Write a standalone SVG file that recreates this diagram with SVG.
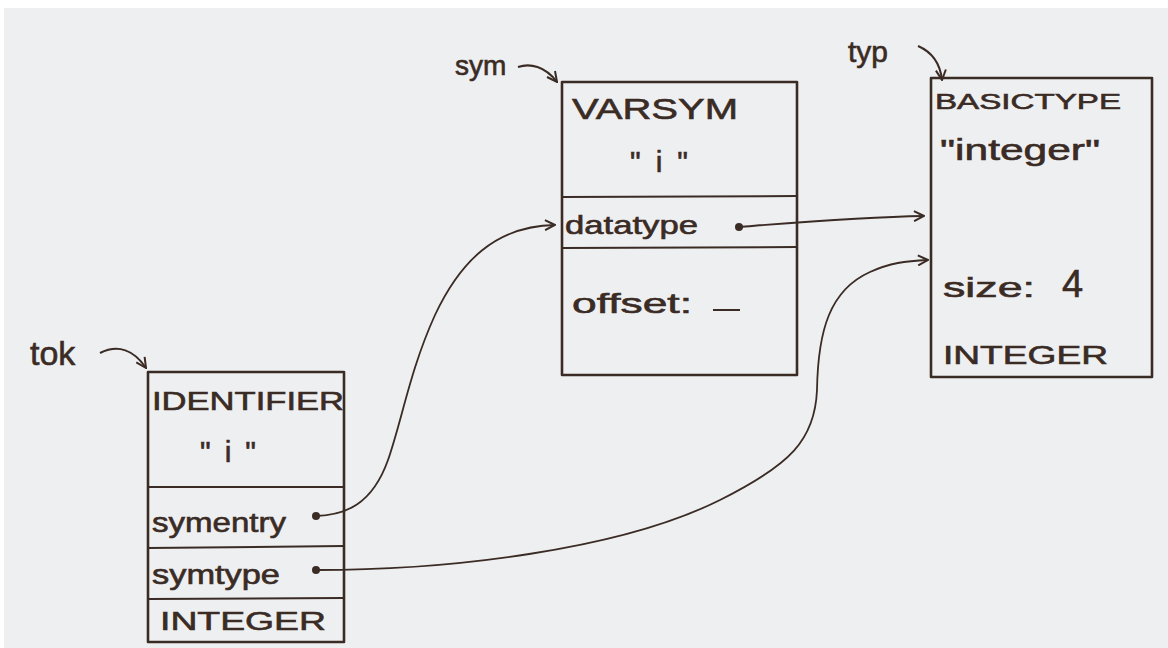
<svg xmlns="http://www.w3.org/2000/svg" width="1168" height="648" viewBox="0 0 1168 648">
<style>
.box{fill:none;stroke:#3a2b24;stroke-width:2.6;stroke-linejoin:round}
.div{fill:none;stroke:#3a2b24;stroke-width:2}
.con{fill:none;stroke:#3a2b24;stroke-width:1.8}
.ptr{fill:none;stroke:#3a2b24;stroke-width:2}
.t{font-family:"Liberation Sans","DejaVu Sans",sans-serif;fill:#3a2b24;stroke:#3a2b24;stroke-width:0.6}
.dot{fill:#3a2b24}
</style>
<defs>
<marker id="ah" viewBox="0 0 12 12" refX="11" refY="6" markerWidth="12" markerHeight="12" markerUnits="userSpaceOnUse" orient="auto">
<path d="M1,1 L11,6 L1,11" fill="none" stroke="#3a2b24" stroke-width="2"/>
</marker>
</defs>
<rect x="0" y="0" width="1168" height="648" fill="#ffffff"/>
<rect x="4" y="8" width="1164" height="640" fill="#eeeff1"/>

<g id="tok">
<text class="t" x="30" y="365" font-size="34">tok</text>
<path class="ptr" d="M100,353 C118,344 134,350 146,368" marker-end="url(#ah)"/>
</g>
<g id="tokbox">
<rect class="box" x="148" y="372" width="196" height="270"/>
<line class="div" x1="148" y1="487" x2="344" y2="487"/>
<line class="div" x1="148" y1="548" x2="344" y2="546"/>
<line class="div" x1="148" y1="599" x2="344" y2="598"/>
<text class="t" x="152" y="410" font-size="25" textLength="192" lengthAdjust="spacingAndGlyphs">IDENTIFIER</text>
<text class="t" x="200" y="462" font-size="30" textLength="56" lengthAdjust="spacing">"i"</text>
<text class="t" x="152" y="532" font-size="27" textLength="134" lengthAdjust="spacingAndGlyphs">symentry</text>
<circle class="dot" cx="316" cy="516" r="4"/>
<text class="t" x="152" y="584" font-size="27" textLength="128" lengthAdjust="spacingAndGlyphs">symtype</text>
<circle class="dot" cx="316" cy="570" r="4"/>
<text class="t" x="160" y="630" font-size="26" textLength="166" lengthAdjust="spacingAndGlyphs">INTEGER</text>
</g>

<g id="sym">
<text class="t" x="455" y="75" font-size="28">sym</text>
<path class="ptr" d="M518,67 C530,63 545,66 557,82" marker-end="url(#ah)"/>
</g>
<g id="symbox">
<rect class="box" x="562" y="82" width="235" height="293"/>
<line class="div" x1="562" y1="197" x2="797" y2="196"/>
<line class="div" x1="562" y1="248" x2="797" y2="247"/>
<text class="t" x="572" y="119" font-size="30" textLength="166" lengthAdjust="spacingAndGlyphs">VARSYM</text>
<text class="t" x="630" y="172" font-size="30" textLength="58" lengthAdjust="spacing">"i"</text>
<text class="t" x="565" y="234" font-size="26" textLength="133" lengthAdjust="spacingAndGlyphs">datatype</text>
<circle class="dot" cx="739" cy="227" r="4"/>
<text class="t" x="572" y="313" font-size="28" textLength="120" lengthAdjust="spacingAndGlyphs">offset:</text>
<line class="div" x1="713" y1="310" x2="740" y2="310"/>
</g>

<g id="typ">
<text class="t" x="848" y="62" font-size="30">typ</text>
<path class="ptr" d="M918,46 C932,52 940,62 942,80" marker-end="url(#ah)"/>
</g>
<g id="typbox">
<rect class="box" x="931" y="78" width="221" height="299"/>
<text class="t" x="935" y="109" font-size="22" textLength="186" lengthAdjust="spacingAndGlyphs">BASICTYPE</text>
<text class="t" x="940" y="160" font-size="30" textLength="160" lengthAdjust="spacingAndGlyphs">"integer"</text>
<text class="t" x="943" y="297" font-size="28" textLength="92" lengthAdjust="spacingAndGlyphs">size:</text>
<text class="t" x="1062" y="297" font-size="38">4</text>
<text class="t" x="943" y="364" font-size="25" textLength="165" lengthAdjust="spacingAndGlyphs">INTEGER</text>
</g>

<g id="connectors">
<path class="con" d="M316,516 C345,515 372,505 388,460 C402,420 410,370 435,315 C460,262 495,226 555,225" marker-end="url(#ah)"/>
<path class="con" d="M739,227 C790,223 860,217 924,216" marker-end="url(#ah)"/>
<path class="con" d="M316,570 C450,570 620,550 720,500 C790,465 815,440 817,390 C818,330 830,290 870,272 C890,263 905,261 928,260" marker-end="url(#ah)"/>
</g>
</svg>
